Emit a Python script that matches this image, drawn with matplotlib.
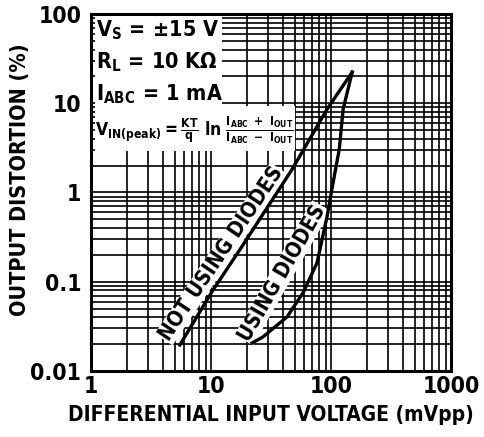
import numpy as np
import matplotlib
matplotlib.use("Agg")
import matplotlib.pyplot as plt
from matplotlib.patches import Rectangle
from matplotlib.ticker import FixedLocator, NullFormatter

# curve data (mVpp, %)
not_diodes_x = [5.5, 10.4, 17.4, 47.3, 92.6, 150]
not_diodes_y = [0.0196, 0.081, 0.229, 1.81, 8.57, 22.3]
diodes_x = [22.0, 27.1, 43.0, 58.4, 76.4, 92.6, 104, 117, 126, 150]
diodes_y = [0.0206, 0.0241, 0.0404, 0.0752, 0.163, 0.537, 1.29, 3.04, 8.57, 22.3]

x_ticks = [1, 10, 100, 1000]
x_labels = ["1", "10", "100", "1000"]
y_ticks = [0.01, 0.1, 1, 10, 100]
y_labels = ["0.01", "0.1", "1", "10", "100"]

plt.rcParams["font.family"] = ["DejaVu Sans"]
plt.rcParams["font.weight"] = "bold"
plt.rcParams["font.stretch"] = "condensed"
plt.rcParams["axes.labelweight"] = "bold"
plt.rcParams["mathtext.fontset"] = "custom"
MF = "DejaVu Sans:weight=bold:stretch=condensed"
plt.rcParams["mathtext.rm"] = MF
plt.rcParams["mathtext.it"] = MF
plt.rcParams["mathtext.bf"] = MF

fig = plt.figure(figsize=(4.84, 4.37), dpi=100)
ax = fig.add_axes([0.188, 0.151, 0.744, 0.817])
ax.set_xscale("log")
ax.set_yscale("log")
ax.set_xlim(1, 1000)
ax.set_ylim(0.01, 100)

minor = lambda lo, hi: [m * 10.0 ** e for e in range(lo, hi) for m in range(2, 10)]
ax.xaxis.set_major_locator(FixedLocator(x_ticks))
ax.xaxis.set_minor_locator(FixedLocator(minor(0, 3)))
ax.yaxis.set_major_locator(FixedLocator(y_ticks))
ax.yaxis.set_minor_locator(FixedLocator(minor(-2, 2)))
ax.set_xticklabels(x_labels)
ax.set_yticklabels(y_labels)
ax.xaxis.set_minor_formatter(NullFormatter())
ax.yaxis.set_minor_formatter(NullFormatter())
ax.tick_params(which="both", length=0, labelsize=16.5)
ax.tick_params(axis="x", pad=3)
ax.tick_params(axis="y", pad=7)
ax.grid(which="both", color="black", lw=1.2)
ax.set_axisbelow(True)
for s in ax.spines.values():
    s.set_linewidth(2.2)

ax.plot(not_diodes_x, not_diodes_y, color="black", lw=2.4, zorder=5)
ax.plot(diodes_x, diodes_y, color="black", lw=2.4, zorder=5)

# white panel behind the condition text
tr = ax.transAxes
ax.add_patch(Rectangle((0.011, 0.739), 0.353, 0.255, transform=tr, facecolor="white",
                       edgecolor="none", zorder=3))
ax.add_patch(Rectangle((0.011, 0.615), 0.556, 0.128, transform=tr, facecolor="white",
                       edgecolor="none", zorder=3))

ax.text(0.015, 0.955, r"$\mathregular{V_S\,=\,{\pm}15\ V}$", transform=tr, fontsize=15.5,
        va="center", ha="left", zorder=4)
ax.text(0.015, 0.866, r"$\mathregular{R_L\,=\,10\ K\Omega}$", transform=tr, fontsize=15.5,
        va="center", ha="left", zorder=4)
ax.text(0.015, 0.776, r"$\mathregular{I_{ABC}\,=\,1\ mA}$", transform=tr, fontsize=15.5,
        va="center", ha="left", zorder=4)
ax.text(0.012, 0.675,
        r"$\mathregular{V_{IN(peak)} = \frac{KT}{q}\ ln\ \frac{I_{ABC}\ +\ I_{OUT}}{I_{ABC}\ -\ I_{OUT}}}$",
        transform=tr, fontsize=12.5, va="center", ha="left", zorder=4)

lbl = dict(facecolor="white", edgecolor="none", pad=0.5)
ax.text(0.362, 0.328, "NOT USING DIODES", transform=tr, fontsize=15, rotation=56,
        ha="center", va="center", bbox=lbl, zorder=4)
ax.text(0.532, 0.275, "USING DIODES", transform=tr, fontsize=15, rotation=60,
        ha="center", va="center", bbox=lbl, zorder=4)

ax.set_xlabel("DIFFERENTIAL INPUT VOLTAGE (mVpp)", fontsize=15)
ax.set_ylabel("OUTPUT DISTORTION (%)", fontsize=15.5)
ax.xaxis.set_label_coords(0.5, -0.096)
ax.yaxis.set_label_coords(-0.169, 0.536)

fig.savefig("out.png", dpi=100)
